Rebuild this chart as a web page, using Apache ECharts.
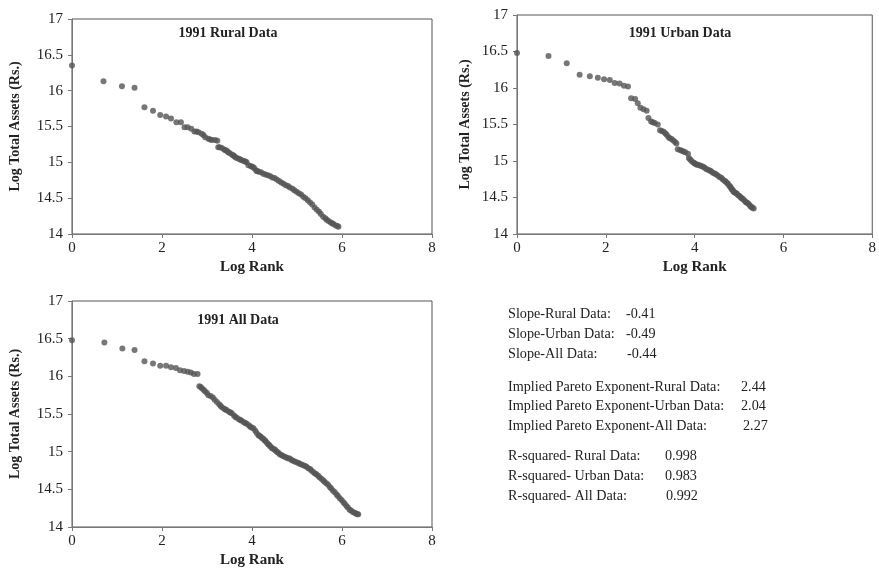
<!DOCTYPE html>
<html>
<head>
<meta charset="utf-8">
<script src="https://cdn.jsdelivr.net/npm/echarts@6/dist/echarts.min.js"></script>
<style>
html,body{margin:0;padding:0;background:#fff;}
#main{width:879px;height:569px;}
</style>
</head>
<body>
<div id="main"></div>
<script>
// ---- data: [Log Rank, Log Total Assets] ----
const ruralData = [
  [0,16.35],[0.70,16.13],[1.11,16.06],[1.39,16.04],[1.61,15.77],[1.80,15.72],[1.96,15.66],
  [2.09,15.64],[2.20,15.61],[2.32,15.56],[2.42,15.56],[2.50,15.49],[2.57,15.49],[2.65,15.47],
  [2.72,15.43],[2.77,15.43],[2.81,15.42],[2.88,15.40],[2.92,15.38],[2.96,15.35],[3.03,15.33],
  [3.07,15.32],[3.11,15.31],[3.18,15.31],[3.23,15.30],[3.25,15.21],[3.28,15.21],[3.33,15.20],
  [3.38,15.18],[3.41,15.17],[3.44,15.16],[3.47,15.14],[3.50,15.13],[3.55,15.11],[3.58,15.10],
  [3.60,15.09],[3.63,15.07],[3.66,15.06],[3.71,15.05],[3.74,15.04],[3.77,15.03],[3.82,15.02],
  [3.85,15.01],[3.88,15.00],[3.92,14.96],[3.97,14.95],[4.00,14.94],[4.03,14.93],[4.06,14.91],
  [4.10,14.88],[4.12,14.88],[4.15,14.87],[4.20,14.86],[4.25,14.84],[4.30,14.83],[4.35,14.82],
  [4.40,14.81],[4.45,14.79],[4.50,14.78],[4.55,14.76],[4.60,14.74],[4.65,14.72],[4.70,14.70],
  [4.75,14.68],[4.80,14.67],[4.84,14.65],[4.90,14.63],[4.94,14.61],[4.99,14.59],[5.04,14.57],
  [5.09,14.55],[5.14,14.52],[5.19,14.50],[5.24,14.47],[5.29,14.44],[5.34,14.41],[5.39,14.37],
  [5.44,14.34],[5.49,14.31],[5.53,14.28],[5.58,14.24],[5.63,14.22],[5.66,14.20],[5.70,14.18],
  [5.75,14.16],[5.78,14.15],[5.81,14.14],[5.86,14.12],[5.90,14.11],[5.92,14.10]
];
const urbanData = [
  [0,16.48],[0.71,16.44],[1.12,16.34],[1.41,16.18],[1.64,16.16],[1.82,16.14],[1.96,16.12],
  [2.09,16.11],[2.20,16.07],[2.31,16.06],[2.41,16.03],[2.50,16.02],[2.57,15.86],[2.66,15.85],
  [2.72,15.79],[2.78,15.73],[2.85,15.71],[2.92,15.69],[2.96,15.59],[3.02,15.54],[3.06,15.53],
  [3.10,15.52],[3.17,15.50],[3.22,15.42],[3.26,15.41],[3.30,15.40],[3.34,15.38],[3.37,15.36],
  [3.41,15.33],[3.44,15.31],[3.48,15.30],[3.52,15.28],[3.56,15.26],[3.59,15.24],[3.62,15.16],
  [3.67,15.15],[3.71,15.14],[3.75,15.13],[3.79,15.12],[3.85,15.10],[3.87,15.04],[3.90,15.02],
  [3.93,15.00],[3.97,14.98],[4.00,14.97],[4.02,14.96],[4.05,14.95],[4.08,14.95],[4.12,14.94],
  [4.15,14.93],[4.19,14.92],[4.22,14.91],[4.26,14.89],[4.30,14.88],[4.34,14.87],[4.37,14.86],
  [4.41,14.84],[4.45,14.83],[4.48,14.82],[4.52,14.80],[4.56,14.78],[4.60,14.77],[4.63,14.75],
  [4.67,14.73],[4.70,14.72],[4.73,14.70],[4.75,14.69],[4.78,14.66],[4.80,14.65],[4.82,14.63],
  [4.84,14.61],[4.86,14.60],[4.88,14.58],[4.90,14.57],[4.93,14.56],[4.95,14.55],[4.98,14.53],
  [5.01,14.52],[5.04,14.50],[5.06,14.49],[5.09,14.48],[5.12,14.46],[5.15,14.44],[5.17,14.43],
  [5.20,14.42],[5.23,14.40],[5.26,14.38],[5.28,14.37],[5.30,14.36],[5.33,14.35]
];
const allData = [
  [0,16.48],[0.72,16.45],[1.12,16.37],[1.39,16.35],[1.61,16.20],[1.80,16.17],[1.96,16.14],
  [2.09,16.14],[2.20,16.12],[2.31,16.11],[2.40,16.08],[2.49,16.07],[2.57,16.06],[2.64,16.05],
  [2.71,16.03],[2.79,16.03],[2.83,15.87],[2.86,15.86],[2.89,15.84],[2.93,15.82],[2.96,15.80],
  [3.00,15.78],[3.03,15.75],[3.08,15.74],[3.13,15.72],[3.17,15.69],[3.22,15.66],[3.27,15.63],
  [3.30,15.61],[3.33,15.59],[3.38,15.57],[3.41,15.56],[3.44,15.55],[3.49,15.53],[3.52,15.52],
  [3.55,15.51],[3.60,15.48],[3.63,15.46],[3.66,15.45],[3.71,15.43],[3.74,15.42],[3.77,15.41],
  [3.82,15.39],[3.85,15.38],[3.88,15.37],[3.93,15.35],[3.96,15.33],[3.99,15.32],[4.03,15.31],
  [4.07,15.28],[4.10,15.25],[4.14,15.22],[4.16,15.21],[4.19,15.20],[4.22,15.18],[4.25,15.17],
  [4.28,15.15],[4.30,15.14],[4.33,15.12],[4.36,15.10],[4.38,15.09],[4.41,15.07],[4.44,15.05],
  [4.47,15.04],[4.50,15.03],[4.52,15.02],[4.55,15.00],[4.58,14.99],[4.61,14.97],[4.64,14.96],
  [4.67,14.95],[4.70,14.94],[4.74,14.93],[4.77,14.92],[4.81,14.91],[4.84,14.91],[4.88,14.89],
  [4.91,14.88],[4.95,14.87],[4.99,14.86],[5.03,14.85],[5.06,14.84],[5.10,14.83],[5.14,14.82],
  [5.18,14.81],[5.21,14.80],[5.25,14.78],[5.29,14.77],[5.32,14.75],[5.36,14.73],[5.40,14.71],
  [5.43,14.70],[5.47,14.68],[5.50,14.66],[5.54,14.64],[5.58,14.62],[5.61,14.60],[5.65,14.58],
  [5.69,14.56],[5.73,14.53],[5.76,14.51],[5.80,14.48],[5.84,14.46],[5.88,14.43],[5.91,14.41],
  [5.95,14.38],[5.99,14.36],[6.03,14.33],[6.06,14.31],[6.10,14.28],[6.13,14.26],[6.17,14.23],
  [6.20,14.22],[6.24,14.20],[6.28,14.19],[6.31,14.18],[6.34,14.17],[6.36,14.17]
];
const panelTitles = ['1991 Rural Data', '1991 Urban Data', '1991 All Data'];
const xAxisName = 'Log Rank';
const yAxisName = 'Log Total Assets (Rs.)';
const statLabels = [
  'Slope-Rural Data:', 'Slope-Urban Data:', 'Slope-All Data:',
  'Implied Pareto Exponent-Rural Data:', 'Implied Pareto Exponent-Urban Data:', 'Implied Pareto Exponent-All Data:',
  'R-squared- Rural Data:', 'R-squared- Urban Data:', 'R-squared- All Data:'
];
const statValues = ['-0.41','-0.49','-0.44','2.44','2.04','2.27','0.998','0.983','0.992'];

// ---- layout ----
const FONT = '"Liberation Serif","Times New Roman",serif';
const grids = [
  {left:72, top:19, right:447, bottom:335},
  {left:517, top:15, right:3, bottom:335},
  {left:72, top:301, right:447, bottom:40}
];
const yNameGaps = [50, 45, 50];
const titlePos = [[228,33],[680,33],[238,320]];
const statY = [314,334,354,387,406,426,456,476,496];
const statValX = [626,626,627,741,741,743,665,665,666];

const chart = echarts.init(document.getElementById('main'), null, {renderer:'canvas'});

const option = {
  backgroundColor:'#fff',
  animation:false,
  grid: grids.map(g => Object.assign({show:true, borderColor:'#555', borderWidth:1, containLabel:false}, g)),
  xAxis: grids.map((g,i) => ({
    type:'value', gridIndex:i, min:0, max:8, interval:2,
    name:xAxisName, nameLocation:'middle', nameGap:26,
    nameTextStyle:{fontFamily:FONT, fontSize:15, fontWeight:'bold', color:'#222'},
    axisLine:{show:true, onZero:false, lineStyle:{color:'#777', width:1}},
    axisTick:{show:true, length:4, lineStyle:{color:'#777'}},
    axisLabel:{fontFamily:FONT, fontSize:15, color:'#222', margin:7},
    splitLine:{show:false}
  })),
  yAxis: grids.map((g,i) => ({
    type:'value', gridIndex:i, min:14, max:17, interval:0.5,
    name:yAxisName, nameLocation:'middle', nameGap:yNameGaps[i], nameRotate:90,
    nameTextStyle:{fontFamily:FONT, fontSize:14, fontWeight:'bold', color:'#222'},
    axisLine:{show:true, onZero:false, lineStyle:{color:'#777', width:1}},
    axisTick:{show:true, length:4, lineStyle:{color:'#777'}},
    axisLabel:{fontFamily:FONT, fontSize:15, color:'#222', margin:9},
    splitLine:{show:false}
  })),
  series: [ruralData, urbanData, allData].map((d,i) => ({
    type:'scatter', xAxisIndex:i, yAxisIndex:i, data:d,
    symbol:'circle', symbolSize:6,
    itemStyle:{color:'#555'}
  })),
  graphic: [
    ...panelTitles.map((t,i) => ({
      type:'text', x:titlePos[i][0], y:titlePos[i][1],
      style:{text:t, fill:'#222', font:'bold 14px '+FONT, textAlign:'center', textVerticalAlign:'middle'}
    })),
    ...statLabels.map((t,i) => ({
      type:'text', x:508, y:statY[i],
      style:{text:t, fill:'#222', font:'14.2px '+FONT, textAlign:'left', textVerticalAlign:'middle'}
    })),
    ...statValues.map((t,i) => ({
      type:'text', x:statValX[i], y:statY[i],
      style:{text:t, fill:'#222', font:'14.2px '+FONT, textAlign:'left', textVerticalAlign:'middle'}
    }))
  ]
};
chart.setOption(option);
</script>
</body>
</html>
